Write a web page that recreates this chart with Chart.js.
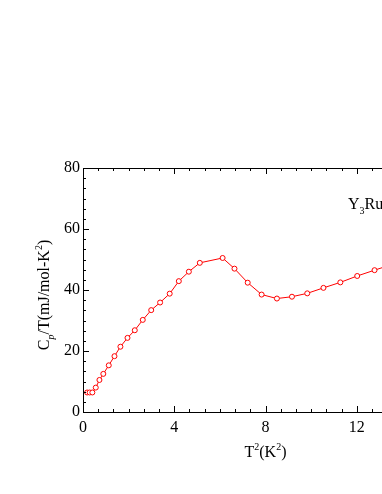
<!DOCTYPE html>
<html>
<head>
<meta charset="utf-8">
<script src="https://cdn.jsdelivr.net/npm/chart.js@4.4.1/dist/chart.umd.min.js"></script>
<style>
  html, body { margin: 0; padding: 0; background: #fff; overflow: hidden; }
  #wrap { width: 382px; height: 494px; overflow: hidden; }
</style>
</head>
<body>
<div id="wrap"><canvas id="heatChart" width="470" height="494"></canvas></div>
<script>
// T^2 (K^2) and Cp/T (mJ/mol-K^2)
const tSq = [0.18, 0.29, 0.41, 0.56, 0.72, 0.89, 1.13, 1.38, 1.64, 1.95,
             2.27, 2.62, 2.99, 3.38, 3.80, 4.20, 4.64, 5.12, 6.12, 6.64,
             7.22, 7.83, 8.50, 9.16, 9.83, 10.54, 11.28, 12.02, 12.78, 13.55];
const cpT = [6.4, 6.4, 6.4, 8.0, 10.5, 12.5, 15.3, 18.3, 21.4, 24.3,
             26.8, 30.2, 33.4, 35.9, 38.8, 42.9, 46.0, 48.9, 50.5, 47.0,
             42.4, 38.5, 37.2, 37.8, 38.9, 40.7, 42.5, 44.6, 46.5, 48.4];
const xTicks = [0, 4, 8, 12, 16];
const yTicks = [0, 20, 40, 60, 80];

const serif = '"Liberation Serif", "Times New Roman", serif';

// text with sub/superscripts, drawn piece by piece
function richText(ctx, parts, x, y, size, align) {
    const fontFor = k => {
        const s = (k === 'sub' || k === 'sup' || k === 'isub') ? Math.round(size * 0.65) : size;
        return (k === 'isub' ? 'italic ' : '') + s + 'px ' + serif;
    };
    let w = 0;
    parts.forEach(p => { ctx.font = fontFor(p[1]); w += ctx.measureText(p[0]).width; });
    let cx = align === 'center' ? x - w / 2 : x;
    ctx.textBaseline = 'alphabetic';
    ctx.textAlign = 'left';
    parts.forEach(p => {
        ctx.font = fontFor(p[1]);
        let dy = 0;
        if (p[1] === 'sub' || p[1] === 'isub') dy = size * 0.3;
        if (p[1] === 'sup') dy = -size * 0.45;
        ctx.fillText(p[0], cx, y + dy);
        cx += ctx.measureText(p[0]).width;
    });
}

const framePlugin = {
    id: 'frame',
    afterDraw(chart) {
        const ctx = chart.ctx;
        const a = chart.chartArea;
        const xs = chart.scales.x, ys = chart.scales.y;
        ctx.save();
        ctx.strokeStyle = '#000';
        ctx.lineWidth = 1;
        ctx.strokeRect(Math.round(a.left) + 0.5, Math.round(a.top) + 0.5,
                       Math.round(a.right - a.left), Math.round(a.bottom - a.top));
        ctx.beginPath();
        // inward ticks, 5 minor between majors
        for (let i = 0; i <= 24; i++) {
            const v = i * 4 / 6;
            const px = Math.round(xs.getPixelForValue(v)) + 0.5;
            const len = i % 6 === 0 ? 6 : 3;
            ctx.moveTo(px, a.bottom); ctx.lineTo(px, a.bottom - len);
            ctx.moveTo(px, a.top); ctx.lineTo(px, a.top + len);
        }
        for (let i = 0; i <= 24; i++) {
            const v = i * 20 / 6;
            const py = Math.round(ys.getPixelForValue(v)) + 0.5;
            const len = i % 6 === 0 ? 6 : 3;
            ctx.moveTo(a.left, py); ctx.lineTo(a.left + len, py);
            ctx.moveTo(a.right, py); ctx.lineTo(a.right - len, py);
        }
        ctx.stroke();

        ctx.fillStyle = '#000';
        richText(ctx, [['T', ''], ['2', 'sup'], ['(K', ''], ['2', 'sup'], [')', '']],
                 (a.left + a.right) / 2, 457, 16, 'center');
        richText(ctx, [['Y', ''], ['3', 'sub'], ['Ru', '']], 348, 209, 16, 'left');

        ctx.translate(49, (a.top + a.bottom) / 2 + 5);
        ctx.rotate(-Math.PI / 2);
        richText(ctx, [['C', ''], ['p', 'isub'], ['/T(mJ/mol-K', ''], ['2', 'sup'], [')', '']],
                 0, 0, 16, 'center');
        ctx.restore();
    }
};

const ctx = document.getElementById('heatChart').getContext('2d');
window.heatChartInstance = new Chart(ctx, {
    type: 'line',
    data: {
        datasets: [{
            data: tSq.map((t, i) => ({ x: t, y: cpT[i] })),
            borderColor: '#ff0000',
            borderWidth: 1,
            backgroundColor: '#fff',
            pointRadius: 2.5,
            pointBorderWidth: 1,
            pointBorderColor: '#ff0000',
            pointBackgroundColor: '#fff',
            tension: 0
        }]
    },
    options: {
        responsive: false,
        animation: false,
        events: [],
        layout: { padding: { top: 168, right: 22, left: 0, bottom: 0 } },
        plugins: { legend: { display: false }, tooltip: { enabled: false } },
        scales: {
            x: {
                type: 'linear',
                min: 0,
                max: 16,
                afterFit: s => { s.height = 82; },
                afterBuildTicks: s => { s.ticks = xTicks.map(v => ({ value: v })); },
                grid: { display: false, drawTicks: false },
                border: { display: false },
                ticks: {
                    padding: 6,
                    color: '#000',
                    font: { family: serif, size: 16 },
                    callback: v => String(v)
                }
            },
            y: {
                min: 0,
                max: 80,
                afterFit: s => { s.width = 83; },
                afterBuildTicks: s => { s.ticks = yTicks.map(v => ({ value: v })); },
                grid: { display: false, drawTicks: false },
                border: { display: false },
                ticks: {
                    padding: 3,
                    color: '#000',
                    font: { family: serif, size: 16 },
                    callback: v => String(v)
                }
            }
        }
    },
    plugins: [framePlugin]
});
</script>
</body>
</html>
